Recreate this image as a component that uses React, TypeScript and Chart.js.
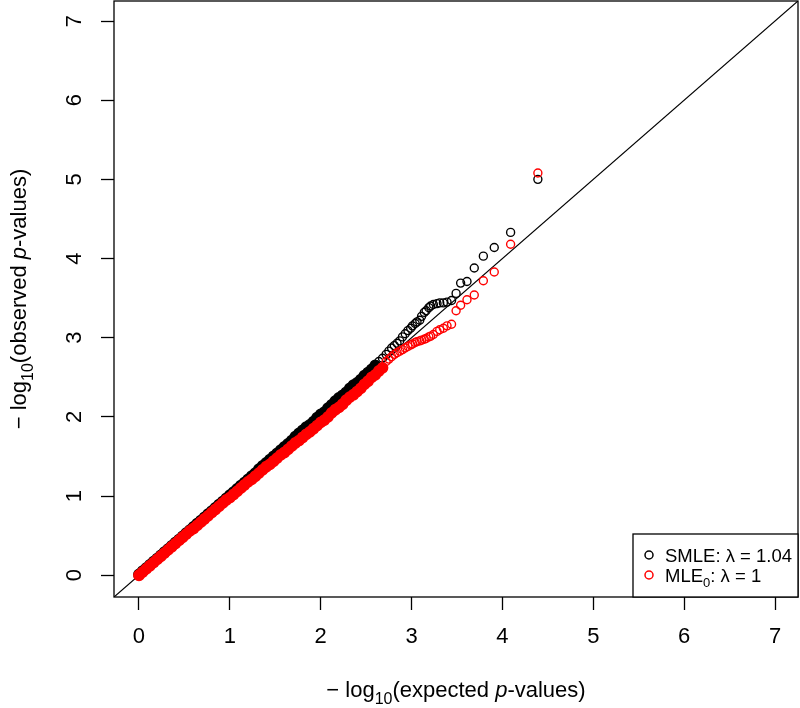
import { useEffect, useRef } from "react";
import { Chart, registerables } from "chart.js";

Chart.register(...registerables);

// Expected -log10(p) quantiles (shared by both series)
const expectedX = [
  0.0, 0.04, 0.08, 0.12, 0.16, 0.2, 0.24, 0.28, 0.32, 0.36,
  0.4, 0.44, 0.48, 0.52, 0.56, 0.6, 0.64, 0.68, 0.72, 0.76,
  0.8, 0.84, 0.88, 0.92, 0.96, 1.0, 1.04, 1.08, 1.12, 1.16,
  1.2, 1.24, 1.28, 1.32, 1.36, 1.4, 1.44, 1.48, 1.52, 1.56,
  1.6, 1.64, 1.68, 1.72, 1.76, 1.8, 1.84, 1.88, 1.92, 1.96,
  2.0, 2.04, 2.08, 2.12, 2.16, 2.2, 2.24, 2.28, 2.32, 2.36,
  2.4, 2.44, 2.48, 2.52, 2.56, 2.6,
  2.64, 2.68, 2.72, 2.75, 2.78, 2.81, 2.84, 2.87, 2.9, 2.93,
  2.96, 2.99, 3.01, 3.04, 3.06, 3.09, 3.11, 3.14, 3.16, 3.19,
  3.21, 3.24, 3.28, 3.31, 3.35, 3.39, 3.44, 3.49, 3.54, 3.61,
  3.69, 3.79, 3.91, 4.09, 4.39,
];

// Observed -log10(p), SMLE (black)
const smleY = [
  0.01, 0.05, 0.09, 0.13, 0.17, 0.21, 0.25, 0.29, 0.33, 0.37,
  0.41, 0.45, 0.49, 0.53, 0.57, 0.61, 0.65, 0.69, 0.73, 0.77,
  0.81, 0.85, 0.89, 0.93, 0.97, 1.01, 1.05, 1.09, 1.13, 1.17,
  1.21, 1.25, 1.29, 1.34, 1.38, 1.42, 1.46, 1.5, 1.54, 1.58,
  1.62, 1.66, 1.7, 1.75, 1.79, 1.83, 1.87, 1.9, 1.94, 1.99,
  2.03, 2.06, 2.11, 2.15, 2.2, 2.24, 2.27, 2.31, 2.36, 2.4,
  2.43, 2.47, 2.52, 2.56, 2.6, 2.65,
  2.7, 2.74, 2.79, 2.83, 2.87, 2.9, 2.93, 2.96, 3.01, 3.05,
  3.09, 3.12, 3.15, 3.18, 3.2, 3.22, 3.27, 3.32, 3.34, 3.38,
  3.4, 3.42, 3.43, 3.44, 3.44, 3.45, 3.47, 3.56, 3.69, 3.71,
  3.88, 4.03, 4.14, 4.33, 5.0,
];

// Observed -log10(p), MLE0 (red)
const mle0Y = [
  0.0, 0.04, 0.08, 0.12, 0.16, 0.2, 0.24, 0.28, 0.32, 0.36,
  0.4, 0.44, 0.48, 0.52, 0.56, 0.59, 0.63, 0.67, 0.71, 0.75,
  0.79, 0.83, 0.87, 0.91, 0.95, 0.98, 1.02, 1.06, 1.1, 1.14,
  1.18, 1.21, 1.25, 1.29, 1.33, 1.37, 1.4, 1.44, 1.48, 1.52,
  1.55, 1.59, 1.63, 1.67, 1.7, 1.74, 1.78, 1.81, 1.85, 1.89,
  1.93, 1.96, 2.0, 2.05, 2.09, 2.12, 2.16, 2.21, 2.25, 2.28,
  2.32, 2.36, 2.41, 2.45, 2.5, 2.53,
  2.58, 2.62, 2.7, 2.73, 2.76, 2.79, 2.81, 2.83, 2.85, 2.87,
  2.89, 2.91, 2.92, 2.94, 2.95, 2.96, 2.97, 2.98, 2.99, 3.01,
  3.02, 3.04, 3.08, 3.1, 3.12, 3.15, 3.17, 3.34, 3.41, 3.48,
  3.54, 3.72, 3.83, 4.18, 5.08,
];

const xTicks = [0, 1, 2, 3, 4, 5, 6, 7];
const yTicks = [0, 1, 2, 3, 4, 5, 6, 7];
const refLine = [-1, 8]; // y = x reference line

const FONT = '"Liberation Sans", Arial, Helvetica, sans-serif';
const AXIS_SIZE = 22;
const LEGEND_SIZE = 18.5;

type Part = { t: string; kind?: "sub" | "it" };

const xTitle: Part[] = [
  { t: "\u2212 log" },
  { t: "10", kind: "sub" },
  { t: "(expected " },
  { t: "p", kind: "it" },
  { t: "-values)" },
];
const yTitle: Part[] = [
  { t: "\u2212 log" },
  { t: "10", kind: "sub" },
  { t: "(observed " },
  { t: "p", kind: "it" },
  { t: "-values)" },
];
const legendRows: { color: string; parts: Part[] }[] = [
  { color: "#000000", parts: [{ t: "SMLE: \u03bb = 1.04" }] },
  { color: "#ff0000", parts: [{ t: "MLE" }, { t: "0", kind: "sub" }, { t: ": \u03bb = 1" }] },
];

function fontFor(kind: string | undefined, size: number) {
  if (kind === "sub") return `${Math.round(size * 0.72)}px ${FONT}`;
  if (kind === "it") return `italic ${size}px ${FONT}`;
  return `${size}px ${FONT}`;
}

function measureParts(ctx: CanvasRenderingContext2D, parts: Part[], size: number) {
  let w = 0;
  for (const p of parts) {
    ctx.font = fontFor(p.kind, size);
    w += ctx.measureText(p.t).width;
  }
  return w;
}

// draws rich text with its left edge at x, baseline at y
function drawParts(ctx: CanvasRenderingContext2D, parts: Part[], size: number, x: number, y: number) {
  let cx = x;
  ctx.textBaseline = "alphabetic";
  ctx.textAlign = "left";
  for (const p of parts) {
    ctx.font = fontFor(p.kind, size);
    const dy = p.kind === "sub" ? size * 0.3 : 0;
    ctx.fillText(p.t, cx, y + dy);
    cx += ctx.measureText(p.t).width;
  }
}

const decorPlugin = {
  id: "decor",
  afterDraw(chart: any) {
    const { ctx, chartArea: a, scales } = chart;
    ctx.save();
    ctx.fillStyle = "#000";
    ctx.strokeStyle = "#000";

    // plot box
    ctx.lineWidth = 1.3;
    ctx.strokeRect(a.left, a.top, a.right - a.left, a.bottom - a.top);

    // y tick labels, rotated (parallel to axis)
    ctx.font = `${AXIS_SIZE}px ${FONT}`;
    ctx.textAlign = "center";
    ctx.textBaseline = "middle";
    for (const v of yTicks) {
      const py = scales.y.getPixelForValue(v);
      ctx.save();
      ctx.translate(a.left - 39, py);
      ctx.rotate(-Math.PI / 2);
      ctx.fillText(String(v), 0, 0);
      ctx.restore();
    }

    // x title
    const cxMid = (a.left + a.right) / 2;
    const wx = measureParts(ctx, xTitle, AXIS_SIZE);
    drawParts(ctx, xTitle, AXIS_SIZE, cxMid - wx / 2, a.bottom + 93 + AXIS_SIZE * 0.33);

    // y title
    const cyMid = (a.top + a.bottom) / 2;
    const wy = measureParts(ctx, yTitle, AXIS_SIZE);
    ctx.save();
    ctx.translate(a.left - 95, cyMid);
    ctx.rotate(-Math.PI / 2);
    drawParts(ctx, yTitle, AXIS_SIZE, -wy / 2, AXIS_SIZE * 0.33);
    ctx.restore();

    // legend (bottom-right)
    const lw = 165;
    const lh = 63;
    const lx = a.right - lw;
    const ly = a.bottom - lh;
    ctx.fillStyle = "#fff";
    ctx.fillRect(lx, ly, lw, lh);
    ctx.lineWidth = 1.3;
    ctx.strokeStyle = "#000";
    ctx.strokeRect(lx, ly, lw, lh);
    legendRows.forEach((row, i) => {
      const rowY = ly + 21 + i * 20;
      ctx.beginPath();
      ctx.arc(lx + 16, rowY, 4, 0, Math.PI * 2);
      ctx.strokeStyle = row.color;
      ctx.lineWidth = 1.5;
      ctx.stroke();
      ctx.fillStyle = "#000";
      drawParts(ctx, row.parts, LEGEND_SIZE, lx + 32, rowY + LEGEND_SIZE * 0.36);
    });

    ctx.restore();
  },
};

const zeroPad = (s: any) => {
  s.paddingTop = 0;
  s.paddingBottom = 0;
  s.paddingLeft = 0;
  s.paddingRight = 0;
};

export default function App() {
  const canvasRef = useRef<HTMLCanvasElement | null>(null);

  useEffect(() => {
    const canvas = canvasRef.current;
    if (!canvas) return;

    const mlePts = expectedX.map((x, i) => ({ x, y: mle0Y[i] }));
    const smlePts = expectedX.map((x, i) => ({ x, y: smleY[i] }));
    const linePts = refLine.map((v) => ({ x: v, y: v }));

    const solidUpTo = { red: 2.7, black: 2.62 };

    const chart = new Chart(canvas, {
      type: "scatter",
      data: {
        datasets: [
          {
            label: "MLE0",
            data: mlePts,
            borderColor: "#ff0000",
            pointBorderColor: "#ff0000",
            pointBackgroundColor: (c: any) =>
              c.raw && c.raw.x <= solidUpTo.red ? "#ff0000" : "rgba(0,0,0,0)",
            pointRadius: (c: any) => (c.raw && c.raw.x <= solidUpTo.red ? 5.2 : 4.0),
            pointBorderWidth: 1.4,
            showLine: false,
          },
          {
            label: "SMLE",
            data: smlePts,
            borderColor: "#000000",
            pointBorderColor: "#000000",
            pointBackgroundColor: (c: any) =>
              c.raw && c.raw.x <= solidUpTo.black ? "#000000" : "rgba(0,0,0,0)",
            pointRadius: (c: any) => (c.raw && c.raw.x <= solidUpTo.black ? 5.2 : 4.0),
            pointBorderWidth: 1.4,
            showLine: false,
          },
          {
            type: "line",
            label: "y = x",
            data: linePts,
            borderColor: "#000000",
            borderWidth: 1.2,
            pointRadius: 0,
            showLine: true,
            fill: false,
          } as any,
        ],
      },
      options: {
        responsive: false,
        animation: false,
        devicePixelRatio: 1,
        layout: { autoPadding: false, padding: { top: 1, right: 2, left: 0, bottom: 0 } },
        plugins: {
          legend: { display: false },
          tooltip: { enabled: false },
        },
        scales: {
          x: {
            type: "linear",
            min: -0.275,
            max: 7.253,
            afterBuildTicks: (s: any) => {
              s.ticks = xTicks.map((v) => ({ value: v }));
            },
            afterFit: (s: any) => {
              s.height = 111;
              zeroPad(s);
            },
            grid: {
              drawOnChartArea: false,
              drawTicks: true,
              tickLength: 13,
              tickWidth: 1.3,
              tickColor: "#000",
            },
            border: { display: false },
            ticks: {
              color: "#000",
              font: { family: FONT, size: AXIS_SIZE },
              padding: 14,
              maxRotation: 0,
              autoSkip: false,
            },
          },
          y: {
            type: "linear",
            min: -0.275,
            max: 7.253,
            afterBuildTicks: (s: any) => {
              s.ticks = yTicks.map((v) => ({ value: v }));
            },
            afterFit: (s: any) => {
              s.width = 114;
              zeroPad(s);
            },
            grid: {
              drawOnChartArea: false,
              drawTicks: true,
              tickLength: 13,
              tickWidth: 1.3,
              tickColor: "#000",
            },
            border: { display: false },
            ticks: {
              color: "rgba(0,0,0,0)",
              font: { family: FONT, size: 2 },
              padding: 0,
              autoSkip: false,
            },
          },
        },
      } as any,
      plugins: [decorPlugin],
    });

    return () => chart.destroy();
  }, []);

  return (
    <div style={{ position: "absolute", left: 0, top: 0, width: 800, height: 708, background: "#fff" }}>
      <canvas ref={canvasRef} width={800} height={708} style={{ display: "block", width: 800, height: 708 }} />
    </div>
  );
}
